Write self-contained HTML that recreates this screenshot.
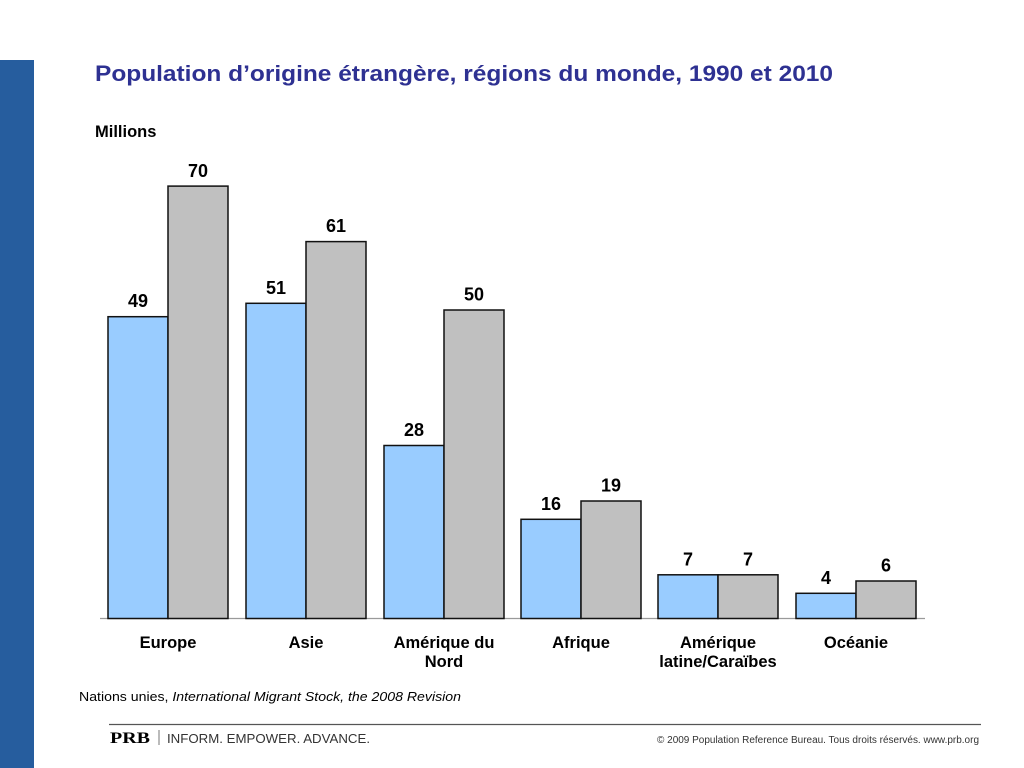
<!DOCTYPE html>
<html>
<head>
<meta charset="utf-8">
<style>
html,body{margin:0;padding:0;background:#fff;}
svg{display:block;}
text{font-family:"Liberation Sans",Arial,sans-serif;}
</style>
</head>
<body>
<svg width="1024" height="768" viewBox="0 0 1024 768" xmlns="http://www.w3.org/2000/svg">
  <rect x="0" y="0" width="1024" height="768" fill="#ffffff"/>
  <!-- left blue band -->
  <rect x="0" y="60" width="34" height="708" fill="#265d9e"/>

  <!-- title -->
  <text x="95" y="81" font-size="22" font-weight="bold" fill="#2e3192" textLength="738" lengthAdjust="spacingAndGlyphs">Population d’origine étrangère, régions du monde, 1990 et 2010</text>
  <text x="95" y="137" font-size="16.5" font-weight="bold" fill="#000">Millions</text>

  <!-- axis line -->
  <line x1="100" y1="618.5" x2="925" y2="618.5" stroke="#9a9a9a" stroke-width="1.2"/>

  <g stroke="#111" stroke-width="1.5">
    <!-- Europe -->
    <rect x="108" y="316.7" width="60" height="301.8" fill="#99ccff"/>
    <rect x="168" y="186.1" width="60" height="432.4" fill="#c0c0c0"/>
    <!-- Asie -->
    <rect x="246" y="303.3" width="60" height="315.2" fill="#99ccff"/>
    <rect x="306" y="241.6" width="60" height="376.9" fill="#c0c0c0"/>
    <!-- Amerique du Nord -->
    <rect x="384" y="445.5" width="60" height="173" fill="#99ccff"/>
    <rect x="444" y="310" width="60" height="308.5" fill="#c0c0c0"/>
    <!-- Afrique -->
    <rect x="521" y="519.3" width="60" height="99.2" fill="#99ccff"/>
    <rect x="581" y="501" width="60" height="117.5" fill="#c0c0c0"/>
    <!-- Amerique latine -->
    <rect x="658" y="574.8" width="60" height="43.7" fill="#99ccff"/>
    <rect x="718" y="574.8" width="60" height="43.7" fill="#c0c0c0"/>
    <!-- Oceanie -->
    <rect x="796" y="593.3" width="60" height="25.2" fill="#99ccff"/>
    <rect x="856" y="581" width="60" height="37.5" fill="#c0c0c0"/>
  </g>

  <!-- value labels -->
  <g font-size="18" font-weight="bold" fill="#000" text-anchor="middle">
    <text x="138" y="307">49</text>
    <text x="198" y="177">70</text>
    <text x="276" y="294">51</text>
    <text x="336" y="232">61</text>
    <text x="414" y="436">28</text>
    <text x="474" y="300.5">50</text>
    <text x="551" y="510">16</text>
    <text x="611" y="491.5">19</text>
    <text x="688" y="565.5">7</text>
    <text x="748" y="565.5">7</text>
    <text x="826" y="584">4</text>
    <text x="886" y="571.5">6</text>
  </g>

  <!-- category labels -->
  <g font-size="16.5" font-weight="bold" fill="#000" text-anchor="middle">
    <text x="168" y="648">Europe</text>
    <text x="306" y="648">Asie</text>
    <text x="444" y="648">Amérique du</text>
    <text x="444" y="667">Nord</text>
    <text x="581" y="648">Afrique</text>
    <text x="718" y="648">Amérique</text>
    <text x="718" y="667">latine/Caraïbes</text>
    <text x="856" y="648">Océanie</text>
  </g>

  <!-- source -->
  <text x="79" y="701" font-size="12.5" fill="#000" textLength="382" lengthAdjust="spacingAndGlyphs">Nations unies, <tspan font-style="italic">International Migrant Stock, the 2008 Revision</tspan></text>

  <!-- footer -->
  <line x1="109" y1="724.5" x2="981" y2="724.5" stroke="#555" stroke-width="1.2"/>
  <text x="110" y="743" font-size="16" font-weight="bold" fill="#000" textLength="40" lengthAdjust="spacingAndGlyphs" style="font-family:'Liberation Serif',serif">PRB</text>
  <line x1="159" y1="730" x2="159" y2="745" stroke="#777" stroke-width="1"/>
  <text x="167" y="743" font-size="12.5" fill="#333" textLength="203" lengthAdjust="spacingAndGlyphs">INFORM. EMPOWER. ADVANCE.</text>
  <text x="979" y="743" font-size="10" fill="#333" text-anchor="end" textLength="322" lengthAdjust="spacingAndGlyphs">© 2009 Population Reference Bureau. Tous droits réservés. www.prb.org</text>
</svg>
</body>
</html>
